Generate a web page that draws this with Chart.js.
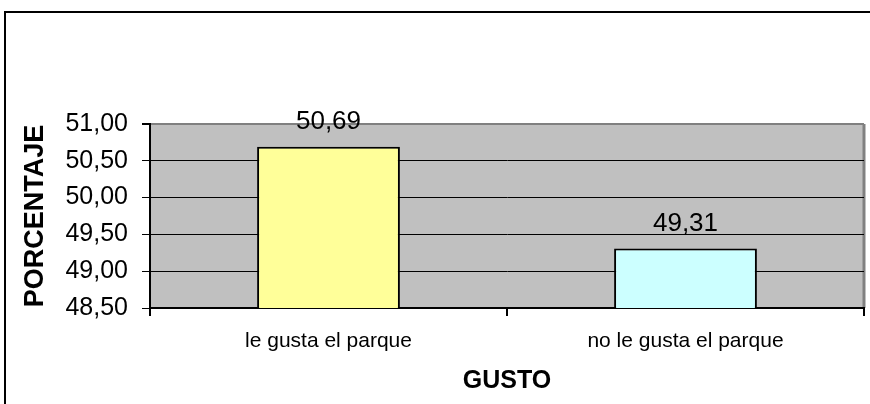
<!DOCTYPE html>
<html>
<head>
<meta charset="utf-8">
<script src="https://cdn.jsdelivr.net/npm/chart.js@4/dist/chart.umd.min.js"></script>
<style>
  html, body { margin: 0; padding: 0; background: #fff; overflow: hidden; }
  #wrap { width: 870px; height: 404px; }
  canvas { display: block; }
</style>
</head>
<body>
<div id="wrap"><canvas id="chart" width="870" height="404"></canvas></div>
<script>
const categories = ['le gusta el parque', 'no le gusta el parque'];
const values = [50.69, 49.31];
const barColors = ['#ffff99', '#ccffff'];
const yMin = 48.5;
const yMax = 51;
const yStep = 0.5;

const fmt = v => v.toFixed(2).replace('.', ',');

// fondo gris del área de trazado + marco exterior
const background = {
    id: 'background',
    beforeDraw(chart) {
        const { ctx, chartArea: a } = chart;
        ctx.save();
        ctx.fillStyle = '#c0c0c0';
        ctx.fillRect(a.left, a.top, a.right - a.left, a.bottom - a.top);
        ctx.strokeStyle = '#808080';
        ctx.lineWidth = 3;
        ctx.beginPath();
        ctx.moveTo(a.right, a.top);
        ctx.lineTo(a.right, a.bottom);
        ctx.stroke();
        // marco
        ctx.strokeStyle = '#000';
        ctx.lineWidth = 2;
        ctx.lineCap = 'butt';
        ctx.beginPath();
        ctx.moveTo(5, 404);
        ctx.lineTo(5, 12);
        ctx.lineTo(870, 12);
        ctx.stroke();
        ctx.restore();
    }
};

// etiquetas de valor sobre las barras
const valueLabels = {
    id: 'valueLabels',
    afterDatasetsDraw(chart) {
        const { ctx } = chart;
        const meta = chart.getDatasetMeta(0);
        ctx.save();
        ctx.font = '26px "Liberation Sans", Arial, sans-serif';
        ctx.fillStyle = '#000';
        ctx.textAlign = 'center';
        ctx.textBaseline = 'middle';
        meta.data.forEach((bar, i) => {
            ctx.fillText(fmt(values[i]), bar.x, bar.y - 25);
        });
        ctx.restore();
    }
};

Chart.defaults.font.family = '"Liberation Sans", Arial, sans-serif';
Chart.defaults.color = '#000';

new Chart(document.getElementById('chart'), {
    type: 'bar',
    data: {
        labels: categories,
        datasets: [{
            data: values,
            backgroundColor: barColors,
            borderColor: '#000',
            borderWidth: 2,
            borderSkipped: false,
            barPercentage: 0.4,
            categoryPercentage: 1
        }]
    },
    options: {
        responsive: false,
        animation: false,
        layout: { padding: { left: 15, top: 124, right: 6, bottom: 0 } },
        plugins: {
            legend: { display: false },
            tooltip: { enabled: false }
        },
        scales: {
            x: {
                afterFit: s => { s.height = 96; },
                grid: {
                    offset: true,
                    drawOnChartArea: false,
                    tickLength: 8,
                    color: '#000',
                    lineWidth: 2
                },
                border: { color: '#000', width: 2 },
                ticks: { font: { size: 21 }, padding: 13 },
                title: {
                    display: true,
                    text: 'GUSTO',
                    font: { size: 25, weight: 'bold' },
                    padding: { top: 4, bottom: 8 }
                }
            },
            y: {
                min: yMin,
                max: yMax,
                afterFit: s => { s.width = 135; },
                grid: {
                    tickLength: 8,
                    tickColor: '#000',
                    color: c => (c.tick && c.tick.value === yMax) ? '#808080' : '#000',
                    lineWidth: c => (c.tick && c.tick.value === yMax) ? 2 : 1
                },
                border: { color: '#000', width: 2 },
                ticks: {
                    stepSize: yStep,
                    font: { size: 25 },
                    padding: 14,
                    callback: v => fmt(v)
                },
                title: {
                    display: true,
                    text: 'PORCENTAJE',
                    font: { size: 27, weight: 'bold' },
                    padding: { top: 4, bottom: 4 }
                }
            }
        }
    },
    plugins: [background, valueLabels]
});
</script>
</body>
</html>
